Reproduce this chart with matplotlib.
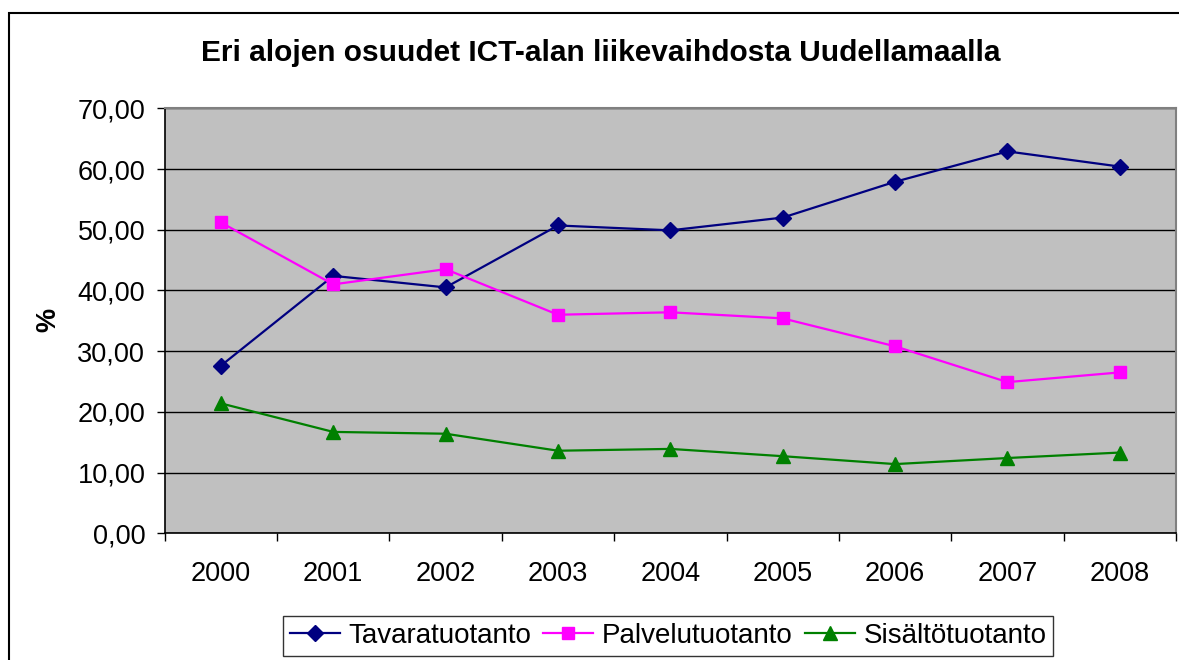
import matplotlib
matplotlib.use("Agg")
import matplotlib.pyplot as plt
from matplotlib.patches import Rectangle

years = ["2000", "2001", "2002", "2003", "2004", "2005", "2006", "2007", "2008"]
tavaratuotanto = [27.6, 42.4, 40.5, 50.7, 49.9, 52.0, 57.9, 62.9, 60.4]
palvelutuotanto = [51.2, 41.0, 43.5, 36.0, 36.4, 35.4, 30.8, 24.9, 26.5]
sisaltotuotanto = [21.4, 16.7, 16.4, 13.6, 13.9, 12.7, 11.4, 12.4, 13.3]
y_ticks = [0, 10, 20, 30, 40, 50, 60, 70]
y_tick_labels = ["0,00", "10,00", "20,00", "30,00", "40,00", "50,00", "60,00", "70,00"]
series_names = ["Tavaratuotanto", "Palvelutuotanto", "Sisältötuotanto"]
title = "Eri alojen osuudet ICT-alan liikevaihdosta Uudellamaalla"

plt.rcParams['font.family'] = ['Liberation Sans', 'DejaVu Sans']

W, H = 1179, 660
fig = plt.figure(figsize=(W / 100, H / 100), dpi=100)
fig.patch.set_facecolor("white")

# outer chart frame
fig.add_artist(Rectangle((8.5 / W, -0.05), 1.2, 1 - 12.5 / H + 0.05,
                         transform=fig.transFigure, fill=False,
                         edgecolor="black", linewidth=1.5))

left, right, top, bottom = 164.7, 1176, 108.3, 533.3
ax = fig.add_axes([left / W, 1 - bottom / H, (right - left) / W, (bottom - top) / H])
ax.set_facecolor("#C0C0C0")

x = list(range(len(years)))
ax.plot(x, tavaratuotanto, color="#000080", marker="D", markersize=8.5,
        linewidth=1.6, label=series_names[0], zorder=3)
ax.plot(x, palvelutuotanto, color="#FF00FF", marker="s", markersize=8.5,
        linewidth=1.6, label=series_names[1], zorder=3)
ax.plot(x, sisaltotuotanto, color="#008000", marker="^", markersize=10,
        linewidth=1.6, label=series_names[2], zorder=3)

ax.set_xlim(-0.5, len(years) - 0.5)
ax.set_ylim(0, 70)
ax.set_yticks(y_ticks)
ax.set_yticklabels(y_tick_labels)
ax.yaxis.grid(True, color="black", linewidth=1.0)
ax.set_axisbelow(True)

ax.set_xticks([i - 0.5 for i in range(len(years) + 1)])
ax.set_xticklabels([])
ax.set_xticks(x, minor=True)
ax.set_xticklabels(years, minor=True)
ax.tick_params(axis="x", which="major", direction="out", length=6, width=1, color="black")
ax.tick_params(axis="x", which="minor", length=0, pad=20, labelsize=19.5)
ax.tick_params(axis="y", direction="out", length=6, width=1, pad=8, labelsize=19.5)

for s in ["top", "right"]:
    ax.spines[s].set_color("#808080")
    ax.spines[s].set_linewidth(1.5)
for s in ["left", "bottom"]:
    ax.spines[s].set_color("black")
    ax.spines[s].set_linewidth(1.2)

fig.text(601 / W, 1 - 53 / H, title, ha="center", va="center",
         fontsize=21.5, fontweight="bold")
fig.text(48 / W, 1 - 320 / H, "%", ha="center", va="center", rotation=90,
         fontsize=19.5, fontweight="bold")

leg = fig.legend(loc="center", bbox_to_anchor=(668 / W, 1 - 636 / H), ncol=3,
                 frameon=True, fancybox=False, fontsize=20, handlelength=1.8,
                 handletextpad=0.3, columnspacing=0.45, borderpad=0.25,
                 borderaxespad=0)
leg.get_frame().set_edgecolor("black")
leg.get_frame().set_linewidth(1.0)

fig.savefig("out.png", dpi=100)
